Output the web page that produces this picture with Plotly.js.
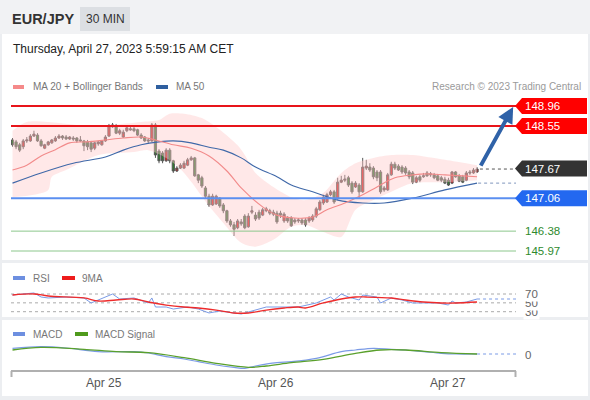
<!DOCTYPE html>
<html><head><meta charset="utf-8">
<script src="https://cdn.plot.ly/plotly-3.0.1.min.js"></script>
<style>html,body{margin:0;padding:0;background:#fff;}#chart{width:590px;height:400px;}</style>
</head><body><div id="chart"></div>
<script>
// ---- data (30-minute bars, index 0 = Apr 24 11:00, index 130 = Apr 27 04:00) ----
const openP = [148.26,148.22,148.16,148.12,148.24,148.24,148.34,148.36,148.24,148.09,
148.16,148.20,148.24,148.30,148.34,148.32,148.28,148.30,148.30,148.26,
148.24,148.22,148.20,148.09,148.18,148.16,148.24,148.34,148.53,148.55,
148.40,148.32,148.45,148.49,148.49,148.47,148.36,148.32,148.26,148.24,
148.57,148.03,147.99,147.83,148.05,147.83,147.62,147.68,147.68,147.74,
147.85,147.89,147.54,147.48,147.27,147.10,146.92,146.94,147.06,146.92,
146.80,146.59,146.51,146.45,146.57,146.69,146.47,146.77,146.71,146.77,
146.71,146.80,146.80,146.77,146.75,146.75,146.59,146.65,146.65,146.61,
146.59,146.61,146.61,146.59,146.61,146.69,146.82,146.96,146.98,147.13,
147.19,147.06,147.39,147.43,147.48,147.37,147.29,147.33,147.19,147.68,
147.70,147.68,147.60,147.60,147.23,147.23,147.54,147.76,147.72,147.70,
147.68,147.60,147.58,147.39,147.50,147.50,147.58,147.54,147.54,147.52,
147.48,147.45,147.43,147.37,147.60,147.52,147.50,147.43,147.60,147.58,
147.60];
const highP = [148.30,148.26,148.20,148.28,148.32,148.38,148.45,148.40,148.28,148.18,
148.24,148.28,148.34,148.38,148.36,148.36,148.34,148.34,148.32,148.34,
148.26,148.26,148.24,148.22,148.24,148.26,148.36,148.59,148.61,148.59,
148.49,148.47,148.55,148.53,148.53,148.49,148.40,148.34,148.30,148.61,
148.61,148.07,148.03,148.09,148.09,147.85,147.72,147.78,147.83,147.89,
147.93,147.91,147.56,147.52,147.31,147.15,147.15,147.13,147.08,146.96,
146.82,146.63,146.57,146.63,146.63,146.73,146.75,146.90,146.77,146.82,
146.86,146.88,146.84,146.82,146.80,146.80,146.77,146.69,146.69,146.65,
146.65,146.65,146.65,146.69,146.73,146.88,147.02,147.13,147.17,147.23,
147.23,147.48,147.52,147.54,147.52,147.41,147.41,147.37,147.89,147.85,
147.78,147.72,147.64,147.64,147.31,147.58,147.81,147.81,147.76,147.74,
147.72,147.64,147.62,147.52,147.54,147.58,147.62,147.60,147.58,147.56,
147.52,147.50,147.48,147.62,147.62,147.56,147.54,147.62,147.64,147.68,
147.70];
const lowP = [148.12,148.07,148.01,148.07,148.20,148.22,148.32,148.22,148.12,148.07,
148.14,148.18,148.22,148.28,148.26,148.26,148.26,148.24,148.20,148.22,
148.03,148.05,148.01,148.05,148.14,148.14,148.22,148.32,148.51,148.38,
148.36,148.30,148.42,148.45,148.42,148.34,148.28,148.22,148.18,148.22,
147.89,147.78,147.78,147.81,147.78,147.58,147.60,147.66,147.66,147.72,
147.83,147.50,147.37,147.27,147.06,146.88,146.90,146.92,146.86,146.75,
146.55,146.47,146.28,146.42,146.49,146.42,146.45,146.73,146.59,146.61,
146.69,146.77,146.71,146.69,146.53,146.65,146.55,146.55,146.47,146.53,
146.55,146.51,146.47,146.55,146.57,146.65,146.80,146.92,146.96,147.10,
146.94,147.02,147.37,147.39,147.29,147.15,147.27,147.06,147.17,147.64,
147.60,147.45,147.41,147.15,147.19,147.21,147.52,147.64,147.62,147.56,
147.54,147.45,147.35,147.37,147.39,147.48,147.50,147.50,147.45,147.41,
147.39,147.35,147.31,147.35,147.48,147.39,147.37,147.41,147.54,147.56,
147.58];
const closeP = [148.16,148.12,148.05,148.24,148.26,148.34,148.38,148.24,148.14,148.16,
148.22,148.26,148.30,148.34,148.30,148.28,148.32,148.28,148.24,148.24,
148.14,148.12,148.07,148.20,148.22,148.24,148.32,148.55,148.57,148.40,
148.45,148.42,148.51,148.47,148.45,148.36,148.30,148.24,148.24,148.57,
147.95,147.83,147.83,148.05,147.83,147.62,147.68,147.74,147.78,147.85,
147.89,147.52,147.43,147.31,147.10,146.92,147.10,147.10,146.90,146.80,
146.59,146.51,146.42,146.59,146.53,146.45,146.69,146.80,146.63,146.65,
146.82,146.84,146.75,146.73,146.57,146.71,146.73,146.59,146.49,146.57,
146.61,146.55,146.51,146.65,146.69,146.84,146.98,147.08,147.13,147.19,
146.98,147.39,147.43,147.45,147.33,147.19,147.37,147.19,147.70,147.72,
147.64,147.50,147.48,147.19,147.27,147.54,147.76,147.68,147.64,147.60,
147.58,147.50,147.39,147.48,147.43,147.52,147.52,147.56,147.48,147.43,
147.43,147.37,147.33,147.60,147.50,147.41,147.39,147.58,147.58,147.64,
147.66];

const ma20Idx = [0,4,8,12,16,21,26,31,36,40,45,50,55,60,64,70,74,79,84,88,93,98,102,107,112,116,121,126,130];
const ma20Val = [147.64,147.74,147.93,148.06,148.20,148.22,148.26,148.30,148.32,148.26,148.16,148.09,147.93,147.62,147.27,146.88,146.71,146.65,146.67,146.82,146.96,147.13,147.29,147.48,147.54,147.56,147.54,147.52,147.50];
const bbUpIdx = [0,4,13,18,27,36,41,44,48,53,58,63,65,68,73,78,82,87,92,96,101,106,112,121,130];
const bbUpVal = [148.45,148.63,148.61,148.57,148.57,148.63,148.67,148.80,148.80,148.71,148.47,148.15,147.95,147.58,147.29,147.08,147.02,147.17,147.58,147.78,147.89,147.95,147.95,147.85,147.74];
const bbLoIdx = [0,6,10,11,15,24,34,38,43,47,50,55,59,64,68,73,78,82,87,92,96,101,106,112,121,130];
const bbLoVal = [147.08,147.13,147.23,147.50,147.64,147.95,148.01,148.05,147.89,147.66,147.40,146.90,146.55,146.14,146.06,146.20,146.47,146.51,146.36,146.26,146.82,147.02,147.19,147.37,147.39,147.43];
const ma50Idx = [0,8,17,26,31,36,41,45,50,55,59,64,68,74,78,84,91,98,104,112,121,130];
const ma50Val = [147.37,147.58,147.78,147.91,148.05,148.16,148.22,148.24,148.20,148.11,148.05,147.89,147.70,147.50,147.33,147.19,147.02,146.96,146.96,147.06,147.23,147.37];

const rsiIdx = [0,6,8,10,15,20,22,24,28,30,34,38,39,40,43,45,49,52,55,58,62,64,66,71,76,80,85,89,90,92,94,97,98,100,102,103,106,109,112,115,119,122,123,124,127,130];
const rsiVal = [67.7,72.3,63.2,61,63.2,61,49.7,56.4,70,58.7,61,49.7,61,40.6,40.6,36.1,40.6,36.1,27.1,31.6,27.1,24.8,29.3,40.6,40.6,40.6,49.7,63.2,56.4,70,63.2,56.4,67.7,65.5,63.2,49.7,61,56.4,49.7,49.7,49.7,45.1,54.2,49.7,51.9,58.7];
const rsiMaIdx = [0,6,10,20,24,29,34,38,43,48,52,57,62,66,71,76,80,82,87,92,96,99,106,110,115,120,124,130];
const rsiMaVal = [67.7,70,65.5,61,54.2,56.4,58.7,51.9,45.1,40.6,38.4,33.8,27.1,27.1,33.8,38.4,40.6,38.4,49.7,58.7,63.2,63.2,61,56.4,51.9,49.7,49.7,51.9];

const macdIdx = [0,8,15,24,34,38,43,48,52,57,62,65,68,74,78,85,92,96,101,106,110,115,120,124,130];
const macdVal = [0.080,0.100,0.084,0.040,0.040,0.024,-0.020,-0.048,-0.080,-0.120,-0.148,-0.160,-0.132,-0.092,-0.080,-0.040,0.040,0.060,0.080,0.068,0.060,0.040,0.020,0.012,0.012];
const sigIdx = [0,8,20,29,38,48,57,66,71,78,87,96,103,110,120,130];
const sigVal = [0.060,0.092,0.068,0.040,0.028,-0.032,-0.100,-0.148,-0.132,-0.092,-0.052,0.020,0.060,0.060,0.028,0.012];

const tickPos = [25.6, 73.7, 122];
const tickText = ['Apr 25','Apr 26','Apr 27'];

const levels = [148.96, 148.55, 147.67, 147.06, 146.38, 145.97];
const levelText = ['148.96','148.55','147.67','147.06','146.38','145.97'];
const target = 148.94;
const rsiLevels = [30, 50, 70];

// ---- layout helpers (pixel -> paper) ----
const FONT = 'Liberation Sans, Arial, sans-serif';
const X0 = 11, X1 = 516, YB = 371;
const PX = x => (x - X0) / (X1 - X0);
const PY = y => (YB - y) / YB;
const priceRange = [145.7435, 149.867];
const mainDom = [PY(262), PY(62)];
const priceToPx = p => 62 + (priceRange[1] - p) / (priceRange[1] - priceRange[0]) * 200;

const idx = closeP.map((_, i) => i);

const traces = [
  {x: bbUpIdx, y: bbUpVal, type:'scatter', mode:'lines', line:{width:0, shape:'spline', smoothing:0.8}, hoverinfo:'skip', showlegend:false, xaxis:'x', yaxis:'y'},
  {x: bbLoIdx, y: bbLoVal, type:'scatter', mode:'lines', line:{width:0, shape:'spline', smoothing:0.8}, fill:'tonexty', fillcolor:'rgba(255,200,200,0.42)', hoverinfo:'skip', showlegend:false, xaxis:'x', yaxis:'y'},
  {x: ma50Idx, y: ma50Val, type:'scatter', mode:'lines', line:{width:1.1, color:'#3f68a8', shape:'spline'}, showlegend:false, xaxis:'x', yaxis:'y'},
  {x: ma20Idx, y: ma20Val, type:'scatter', mode:'lines', line:{width:1.1, color:'#f28a8a', shape:'spline'}, showlegend:false, xaxis:'x', yaxis:'y'},
  {x: idx, open: openP, high: highP, low: lowP, close: closeP, type:'candlestick', xaxis:'x', yaxis:'y',
   increasing:{line:{color:'#555', width:1}, fillcolor:'#e51c1c'},
   decreasing:{line:{color:'#555', width:1}, fillcolor:'#2e7d2e'},
   whiskerwidth:0, showlegend:false, hoverinfo:'skip'},
  {x: rsiIdx, y: rsiVal, type:'scatter', mode:'lines', line:{width:1, color:'#7b9be6'}, showlegend:false, xaxis:'x', yaxis:'y2'},
  {x: rsiMaIdx, y: rsiMaVal, type:'scatter', mode:'lines', line:{width:1.3, color:'#ee2b2b', shape:'spline'}, showlegend:false, xaxis:'x', yaxis:'y2'},
  {x: macdIdx, y: macdVal, type:'scatter', mode:'lines', line:{width:1.2, color:'#7b9be6', shape:'spline'}, showlegend:false, xaxis:'x', yaxis:'y3'},
  {x: sigIdx, y: sigVal, type:'scatter', mode:'lines', line:{width:1.3, color:'#5aa02c', shape:'spline'}, showlegend:false, xaxis:'x', yaxis:'y3'}
];

const shapes = [];
const ann = [];
const rect = (x0,y0,x1,y1,fill,layer) => shapes.push({type:'rect', xref:'paper', yref:'paper', x0:PX(x0), x1:PX(x1), y0:PY(y0), y1:PY(y1), fillcolor:fill, line:{width:0}, layer: layer||'below'});
const text = (x,y,t,size,color,anchor,extra) => ann.push(Object.assign({xref:'paper', yref:'paper', x:PX(x), y:PY(y), text:t, showarrow:false, xanchor:anchor||'left', yanchor:'middle', font:{family:FONT, size:size, color:color}}, extra||{}));

// header & frame
rect(0,0,590,34,'#f1f2f4');
rect(80,7,130,31,'#dcdfe3');
rect(0,260,590,263,'#eceef1');
rect(0,317,590,320,'#eceef1');
rect(0,396,590,400,'#eceef1');
rect(0,34,2,396,'#eceef1');
rect(588,34,590,396,'#eceef1');

text(10,19,'<b>EUR/JPY</b>',14.5,'#333');
text(105,19,'30 MIN',12,'#333','center');
text(11,49,'Thursday, April 27, 2023 5:59:15 AM CET',12,'#222');

// legends
rect(13,85,24,89,'#f58a8a','above');
text(31,87,'MA 20 + Bollinger Bands',10,'#777');
rect(156,85,168,89,'#2f5f9f','above');
text(174,87,'MA 50',10,'#777');
text(583,87,'Research © 2023 Trading Central',10,'#9a9a9a','right');

rect(13,276,25,280,'#6d8fe0','above');
text(31,278,'RSI',10,'#777');
rect(62,276,75,280,'#ee1c1c','above');
text(80,278,'9MA',10,'#777');

rect(13,332,25,336,'#6d8fe0','above');
text(31,334,'MACD',10,'#777');
rect(75,332,88,336,'#4f9a1c','above');
text(93,334,'MACD Signal',10,'#777');

// level lines and labels
const lvlLine = ['#e8141a','#e8141a',null,'#5b8ff0','#8cc78c','#8cc78c'];
const lvlW = [2,2,0,2,1,1];
const lvlBox = ['#ff0000','#ff0000','#333333','#2368f0',null,null];
levels.forEach((p,k)=>{
  if (lvlLine[k]) shapes.push({type:'line', xref:'x', yref:'y', x0:-0.42, x1:140.9, y0:p, y1:p, line:{color:lvlLine[k], width:lvlW[k]}, layer:'above'});
  const py = priceToPx(p);
  if (lvlBox[k]) {
    const d = `M ${PX(515)},${PY(py)} L ${PX(522)},${PY(py-8)} L ${PX(587)},${PY(py-8)} L ${PX(587)},${PY(py+8)} L ${PX(522)},${PY(py+8)} Z`;
    shapes.push({type:'path', xref:'paper', yref:'paper', path:d, fillcolor:lvlBox[k], line:{width:0}, layer:'above'});
    text(523,py,levelText[k],11.5,'#ffffff');
  } else {
    text(523,py,levelText[k],11.5,'#2e8b2e');
  }
});
// dotted extensions
const lastI = closeP.length - 1;
shapes.push({type:'line', xref:'x', yref:'y', x0:lastI+0.8, x1:140.9, y0:closeP[lastI], y1:closeP[lastI], line:{color:'#555', width:1, dash:'dot'}});
shapes.push({type:'line', xref:'x', yref:'y', x0:lastI+0.3, x1:140.9, y0:ma50Val[ma50Val.length-1], y1:ma50Val[ma50Val.length-1], line:{color:'#7f95bd', width:1, dash:'dot'}});
shapes.push({type:'line', xref:'x', yref:'y2', x0:lastI, x1:140.9, y0:rsiVal[rsiVal.length-1], y1:rsiVal[rsiVal.length-1], line:{color:'#7b9be6', width:1, dash:'dot'}});
shapes.push({type:'line', xref:'x', yref:'y3', x0:lastI, x1:140.9, y0:macdVal[macdVal.length-1], y1:macdVal[macdVal.length-1], line:{color:'#7b9be6', width:1, dash:'dot'}});

// RSI guide lines + labels (30 first so 70 sits on top, as in the original)
rsiLevels.forEach(v=>{
  shapes.push({type:'line', xref:'x', yref:'y2', x0:-0.42, x1:140.9, y0:v, y1:v, line:{color:'#aaa', width:1, dash:'dot'}, layer:'below'});
});
rsiLevels.forEach(v=>{
  ann.push({xref:'paper', yref:'y2', x:PX(523), y:v, text:String(v), showarrow:false, xanchor:'left', yanchor:'middle', bgcolor:'#ffffff', borderpad:1, font:{family:FONT, size:11.5, color:'#666'}});
});
ann.push({xref:'paper', yref:'y3', x:PX(523), y:0, text:'0', showarrow:false, xanchor:'left', yanchor:'middle', font:{family:FONT, size:11.5, color:'#666'}});

// x axis line + end ticks + labels
shapes.push({type:'line', xref:'paper', yref:'paper', x0:0, x1:1, y0:PY(371), y1:PY(371), line:{color:'#b0b0b0', width:2}});
shapes.push({type:'line', xref:'paper', yref:'paper', x0:PX(11.5), x1:PX(11.5), y0:PY(371), y1:PY(377), line:{color:'#b0b0b0', width:2}});
shapes.push({type:'line', xref:'paper', yref:'paper', x0:PX(515.5), x1:PX(515.5), y0:PY(371), y1:PY(377), line:{color:'#b0b0b0', width:2}});
tickPos.forEach((t,k)=>{
  ann.push({xref:'x', yref:'paper', x:t, y:PY(383), text:tickText[k], showarrow:false, xanchor:'center', yanchor:'middle', font:{family:FONT, size:12, color:'#555'}});
});

// target arrow
ann.push({xref:'x', yref:'y', x:140.1, y:target, axref:'x', ayref:'y', ax:130.8, ay:147.70, showarrow:true, arrowhead:2, arrowsize:0.8, arrowwidth:4, arrowcolor:'#2f62a8', standoff:0, startstandoff:0, text:''});

const hidden = {showgrid:false, zeroline:false, showticklabels:false, showline:false, ticks:'', fixedrange:true};
const layout = {
  width:590, height:400,
  margin:{l:X0, r:590-X1, t:0, b:400-YB},
  paper_bgcolor:'#ffffff', plot_bgcolor:'rgba(0,0,0,0)',
  showlegend:false,
  boxgap:0.12,
  font:{family:FONT},
  xaxis: Object.assign({domain:[0,1], range:[-0.42,140.9], anchor:'y3', rangeslider:{visible:false}}, hidden),
  yaxis: Object.assign({domain:mainDom, range:priceRange, anchor:'x'}, hidden),
  yaxis2: Object.assign({domain:[PY(319), PY(262)], range:[13.5,142.3], anchor:'x'}, hidden),
  yaxis3: Object.assign({domain:[0, PY(319)], range:[-0.192,0.432], anchor:'x'}, hidden),
  shapes: shapes,
  annotations: ann
};
Plotly.newPlot('chart', traces, layout, {staticPlot:true, displayModeBar:false});
</script></body></html>
